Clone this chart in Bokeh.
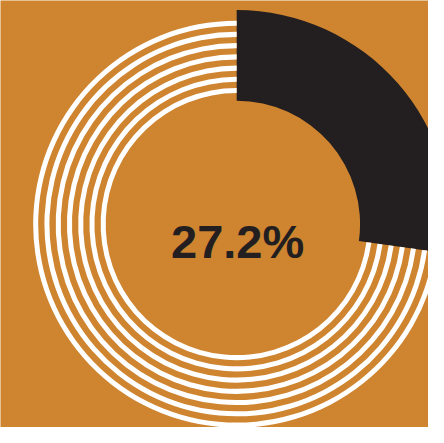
import numpy as np
from bokeh.plotting import figure
from bokeh.embed import file_html
from bokeh.resources import INLINE
from bokeh.core.properties import value

# data
categories = ["Share", "Rest"]
shares = [27.2, 72.8]
label = "27.2%"

W, H = 428, 427
RW, RH = 444, 443  # reference frame units
BG = "#CF842F"
DARK = "#231F20"

p = figure(width=W, height=H, x_range=(0, RW), y_range=(0, RH),
           output_backend="svg", toolbar_location=None, min_border=0,
           background_fill_color=BG, border_fill_color=BG, outline_line_color=None)
p.axis.visible = False
p.grid.visible = False

cx, cy = 245, RH - 232

fr = np.array(shares) / sum(shares)
cum = np.concatenate([[0], np.cumsum(fr)])
starts = np.pi / 2 - 2 * np.pi * cum[:-1]
ends = np.pi / 2 - 2 * np.pi * cum[1:]

# dark wedge for the share
p.annular_wedge(x=cx, y=cy, inner_radius=128, outer_radius=222,
                start_angle=starts[0], end_angle=ends[0], direction="clock",
                fill_color=DARK, line_color=None)

# striped rings for the rest
centers = np.linspace(208.5, 138.5, 7)
for rc in centers:
    p.annular_wedge(x=cx, y=cy, inner_radius=rc - 2.6, outer_radius=rc + 2.6,
                    start_angle=starts[1], end_angle=ends[1], direction="clock",
                    fill_color="white", line_color=None)

p.text(x=[cx + 1], y=[RH - 250], text=[label], text_align="center",
       text_baseline="alphabetic", text_font=value("Liberation Sans"),
       text_font_style="bold", text_font_size="47px", text_color=DARK)

open("out.html", "w").write(file_html(p, INLINE))
